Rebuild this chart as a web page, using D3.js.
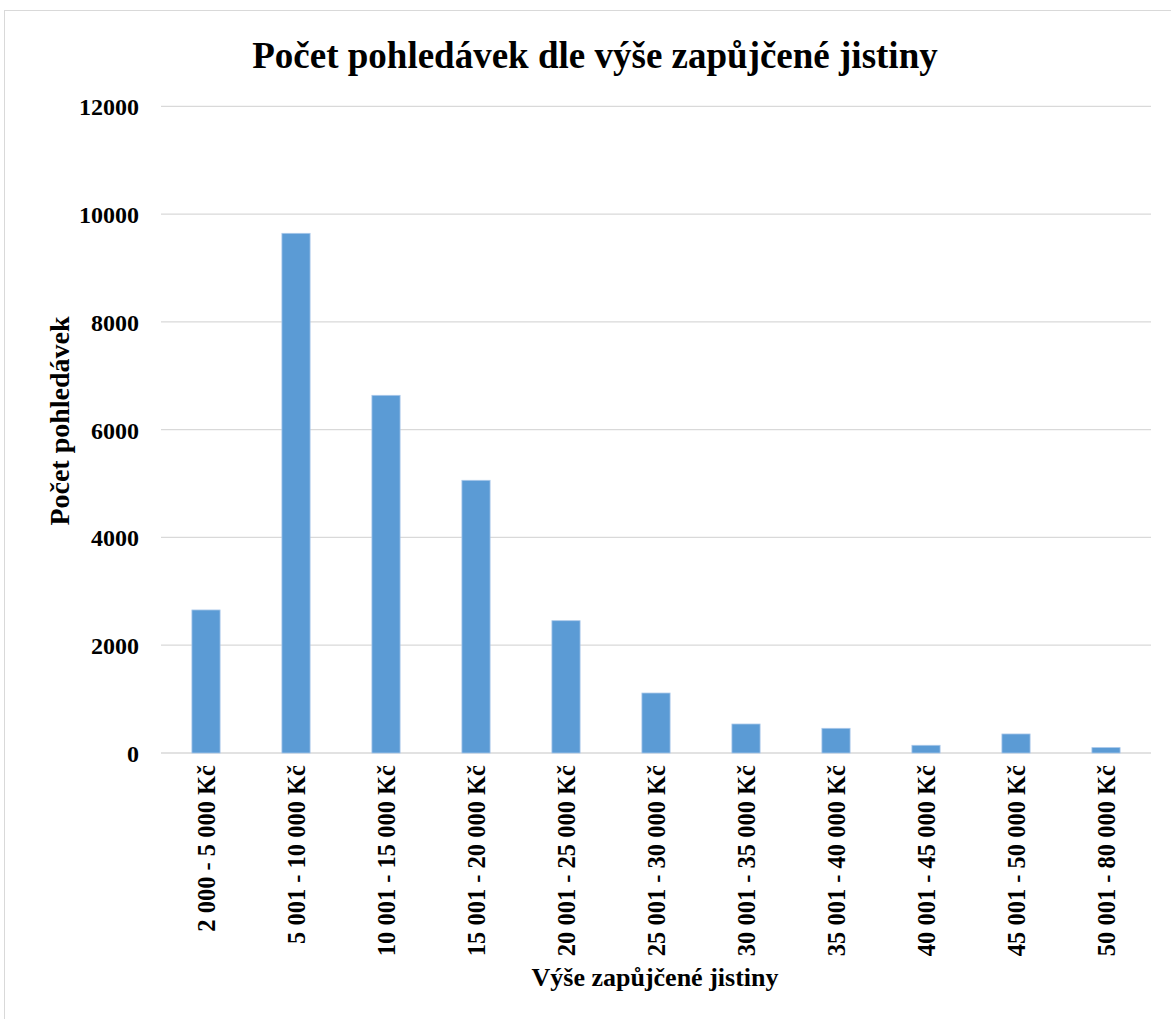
<!DOCTYPE html>
<html>
<head>
<meta charset="utf-8">
<script src="https://cdn.jsdelivr.net/npm/d3@7"></script>
<style>
  html, body { margin: 0; padding: 0; background: #fff; }
  svg { display: block; }
  text { font-family: "Liberation Serif", "Times New Roman", serif; font-weight: bold; fill: #000; }
</style>
</head>
<body>
<script>
const categories = [
  "2 000 - 5 000 Kč", "5 001 - 10 000 Kč", "10 001 - 15 000 Kč", "15 001 - 20 000 Kč",
  "20 001 - 25 000 Kč", "25 001 - 30 000 Kč", "30 001 - 35 000 Kč", "35 001 - 40 000 Kč",
  "40 001 - 45 000 Kč", "45 001 - 50 000 Kč", "50 001 - 80 000 Kč"
];
const values = [2654, 9643, 6637, 5060, 2455, 1113, 538, 458, 143, 353, 100];
const yTicks = [0, 2000, 4000, 6000, 8000, 10000, 12000];
const title = "Počet pohledávek dle výše zapůjčené jistiny";
const xTitle = "Výše zapůjčené jistiny";
const yTitle = "Počet pohledávek";

const W = 1171, H = 1019;
const plotLeft = 161, plotRight = 1151, plotTop = 106.3, plotBottom = 753;

const svg = d3.select("body").append("svg").attr("width", W).attr("height", H);

svg.append("rect").attr("x", 4.5).attr("y", 10.5).attr("width", W + 10).attr("height", H + 10)
  .attr("fill", "#fff").attr("stroke", "#d9d9d9").attr("stroke-width", 1);

const x = d3.scaleBand().domain(categories).range([plotLeft, plotRight]).paddingInner(0.687).paddingOuter(0.3435);
const y = d3.scaleLinear().domain([0, 12000]).range([plotBottom, plotTop]);

// gridlines
svg.append("g").selectAll("line").data(yTicks).join("line")
  .attr("x1", plotLeft).attr("x2", plotRight)
  .attr("y1", d => y(d)).attr("y2", d => y(d))
  .attr("stroke", "#d9d9d9").attr("stroke-width", d => d === 0 ? 1.5 : 1.3);

// y axis labels
const yAxis = d3.axisLeft(y).tickValues(yTicks).tickSize(0).tickPadding(22).tickFormat(d3.format("d"));
const gy = svg.append("g").attr("transform", `translate(${plotLeft},0)`).call(yAxis);
gy.select(".domain").remove();
gy.selectAll("text").style("font-size", "24px").style("font-family", "Liberation Serif, serif").style("font-weight", "bold").attr("fill", "#000").attr("dy", "0.35em");

// bars
svg.append("g").selectAll("rect").data(values).join("rect")
  .attr("x", (d, i) => x(categories[i]))
  .attr("width", x.bandwidth())
  .attr("y", d => y(d))
  .attr("height", d => y(0) - y(d))
  .attr("fill", "#5b9bd5")
  .attr("stroke", "#a9c8ea").attr("stroke-width", 0.8);

// x axis labels
const xAxis = d3.axisBottom(x).tickSize(0).tickPadding(0);
const gx = svg.append("g").attr("transform", `translate(0,${plotBottom})`).call(xAxis);
gx.select(".domain").remove();
gx.selectAll("text")
  .style("font-size", "24.5px").style("font-family", "Liberation Serif, serif").style("font-weight", "bold")
  .attr("fill", "#000")
  .attr("text-anchor", "end")
  .attr("transform", "rotate(-90)")
  .attr("x", -12).attr("y", 0).attr("dy", "0.35em");

// title
svg.append("text").attr("x", 595).attr("y", 68).attr("text-anchor", "middle")
  .style("font-size", "37px").text(title);

// x title
svg.append("text").attr("x", 655).attr("y", 986).attr("text-anchor", "middle")
  .style("font-size", "26px").text(xTitle);

// y title
svg.append("text").attr("transform", "translate(69,421) rotate(-90)").attr("text-anchor", "middle")
  .style("font-size", "28px").text(yTitle);
</script>
</body>
</html>
